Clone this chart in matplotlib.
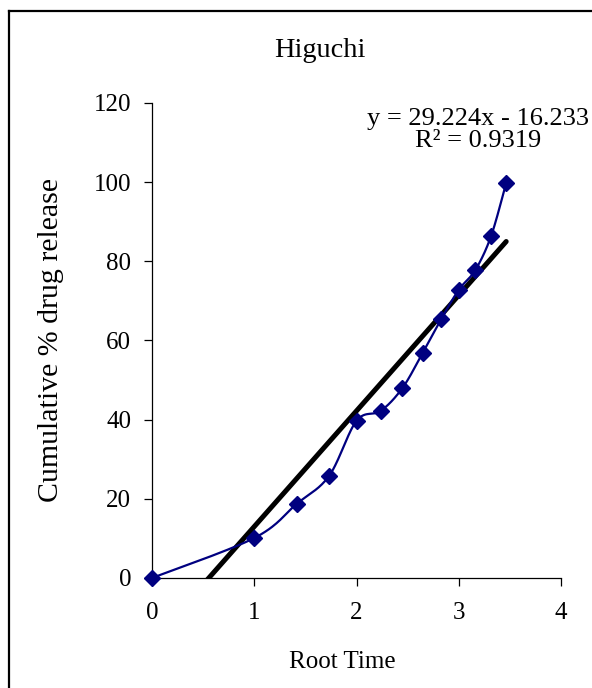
"""Higuchi plot: cumulative % drug release against root time."""

import numpy as np
import matplotlib

matplotlib.use("Agg")
import matplotlib.pyplot as plt
from matplotlib.lines import Line2D

plt.rcParams["font.family"] = ["Liberation Serif", "DejaVu Serif"]

time_h = [0, 1, 2, 3, 4, 5, 6, 7, 8, 9, 10, 11, 12]
release = [0, 10.1, 18.7, 25.8, 39.7, 42.2, 48.0, 56.8, 65.4, 72.8, 77.8, 86.4, 99.8]
slope = 29.224
intercept = -16.233
r_squared = 0.9319
x_ticks = [0, 1, 2, 3, 4]
y_ticks = [0, 20, 40, 60, 80, 100, 120]

NAVY = "#000080"


def smooth_curve(x, y, steps=30):
    """Catmull-Rom style smoothing, like Excel's smoothed line."""
    x = np.asarray(x, dtype=float)
    y = np.asarray(y, dtype=float)
    px = np.concatenate([[x[0]], x, [x[-1]]])
    py = np.concatenate([[y[0]], y, [y[-1]]])
    out_x, out_y = [], []
    t = np.linspace(0, 1, steps)
    for i in range(1, len(px) - 2):
        p0 = np.array([px[i], py[i]])
        p3 = np.array([px[i + 1], py[i + 1]])
        c1 = p0 + (np.array([px[i + 1], py[i + 1]]) - np.array([px[i - 1], py[i - 1]])) / 6
        c2 = p3 - (np.array([px[i + 2], py[i + 2]]) - np.array([px[i], py[i]])) / 6
        b = ((1 - t) ** 3)[:, None] * p0 + (3 * (1 - t) ** 2 * t)[:, None] * c1 \
            + (3 * (1 - t) * t ** 2)[:, None] * c2 + (t ** 3)[:, None] * p3
        out_x.extend(b[:, 0])
        out_y.extend(b[:, 1])
    return np.array(out_x), np.array(out_y)


root_time = np.sqrt(time_h)

fig = plt.figure(figsize=(5.92, 6.88), dpi=100)
ax = fig.add_axes([0.2568, 0.1599, 0.6908, 0.6904])

sx, sy = smooth_curve(root_time, release)
ax.plot(sx, sy, color=NAVY, lw=1.6, zorder=3)
ax.plot(root_time, release, ls="none", marker="D", ms=8.5, color=NAVY, zorder=4, clip_on=False)

fit_x = np.array([root_time[0], root_time[-1]])
ax.plot(fit_x, slope * fit_x + intercept, color="black", lw=3.6, solid_capstyle="round", zorder=2)

ax.set_xlim(0, 4)
ax.set_ylim(0, 120)
ax.set_xticks(x_ticks)
ax.set_yticks(y_ticks)
ax.spines["top"].set_visible(False)
ax.spines["right"].set_visible(False)
for side in ("left", "bottom"):
    ax.spines[side].set_linewidth(0.9)
ax.tick_params(direction="out", length=6, width=0.9, labelsize=18)
ax.tick_params(axis="x", pad=11)
ax.tick_params(axis="y", pad=9)

ax.set_xlabel("Root Time", fontsize=18, va="center")
ax.xaxis.set_label_coords(0.465, -0.177)
ax.set_ylabel("Cumulative % drug release", fontsize=21.5, va="center")
ax.yaxis.set_label_coords(-0.246, 0.501)

fig.text(0.5405, 0.927, "Higuchi", ha="center", va="center", fontsize=20.4)

fig.text(0.8074, 0.811, f"y = {slope}x - {-intercept:.3f}\nR\u00b2 = {r_squared}",
         ha="center", va="center", multialignment="center", fontsize=19, linespacing=1.05)

# Excel chart area border (only top and left are inside the crop)
fig.add_artist(Line2D([0.015, 1.0], [0.984, 0.984], color="black", lw=1.6, transform=fig.transFigure))
fig.add_artist(Line2D([0.015, 0.015], [0.0, 0.984], color="black", lw=1.6, transform=fig.transFigure))

fig.savefig("out.png", dpi=100)
